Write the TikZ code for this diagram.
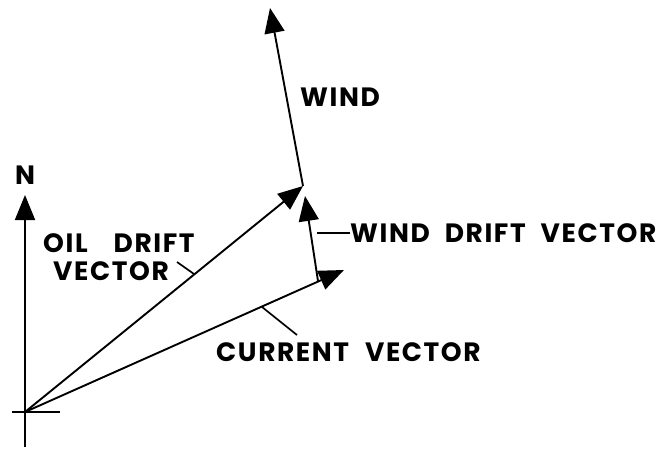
\documentclass[tikz,border=0pt]{standalone}
\usepackage{fontspec}
\setmainfont{Poppins}[LetterSpace=6]
\usetikzlibrary{arrows.meta}
\begin{document}
\begin{tikzpicture}[x=1pt,y=-1pt,
  vec/.style={line width=1.9pt,-{Triangle[length=25pt,width=20pt]}},
  thin line/.style={line width=1.7pt},
  lbl/.style={font=\fontsize{26.5}{26.5}\selectfont\bfseries,inner sep=0pt,anchor=west}]
\useasboundingbox (0,0) rectangle (671,449);
% points
\coordinate (O) at (25,412);
\coordinate (Nb) at (25,447);
\coordinate (Nt) at (25,195);
\coordinate (tl) at (12,412);
\coordinate (tr) at (60,412);
\coordinate (C) at (344,270);
\coordinate (P) at (303,186);
\coordinate (D) at (318,281);
\coordinate (Dt) at (305,196);
\coordinate (W) at (270,8);
% axis
\draw[vec] (Nb) -- (Nt);
\draw[thin line] (tl) -- (tr);
% vectors
\draw[vec] (O) -- (C);
\draw[vec] (O) -- (P);
\draw[vec] (D) -- (Dt);
\draw[vec] (P) -- (W);
% labels
\node[font=\fontsize{26.5}{26.5}\selectfont\bfseries,inner sep=0pt] (n) at (25,175) {N};
\node[lbl] (wind) at (300,97) {WIND};
\node[lbl] (oil1) at (43,243) {OIL\hspace{26pt}DRIFT};
\node[lbl] (oil2) at (53,271) {VECTOR};
\node[lbl] (wdv) at (350,233) {WIND\hspace{15pt}DRIFT\hspace{15pt}VECTOR};
\node[lbl] (cur) at (216,352) {CURRENT\hspace{16pt}VECTOR};
% leaders
\coordinate (oa) at (177,262);
\coordinate (ob) at (194,274);
\coordinate (wa) at (317,233);
\coordinate (ca) at (262,307);
\coordinate (cb) at (297,335);
\draw[thin line] (oa) -- (ob);
\draw[thin line] (wa) -- (wdv.west);
\draw[thin line] (ca) -- (cb);
\end{tikzpicture}
\end{document}
